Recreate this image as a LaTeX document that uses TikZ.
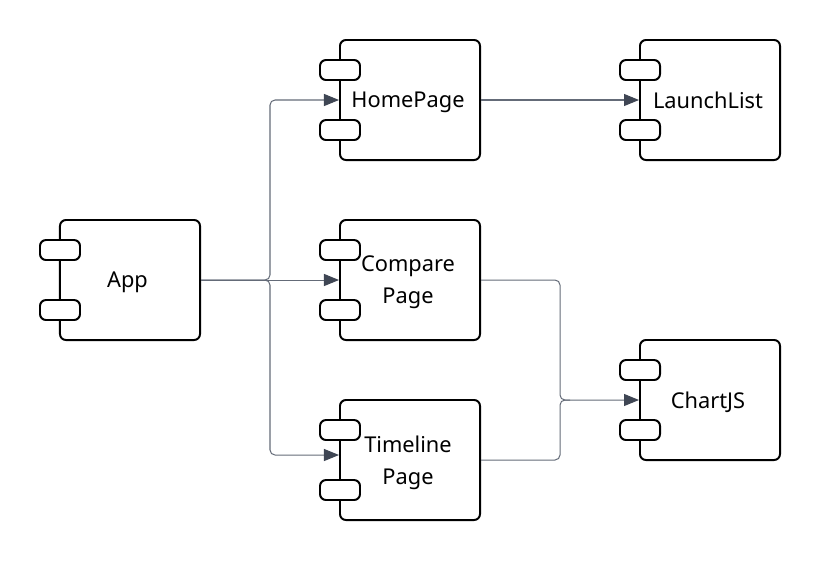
\documentclass[tikz,border=0pt]{standalone}
\usepackage{fontspec}
\setmainfont{Noto Sans}
\definecolor{boxline}{HTML}{000000}
\definecolor{edgeline}{HTML}{646B78}
\definecolor{edgetip}{HTML}{3F4654}
\usetikzlibrary{arrows.meta}
\tikzset{
  compbody/.style={draw=boxline, line width=1.4pt, fill=white, rounded corners=0.15cm, minimum width=3.5cm, minimum height=3cm},
  comptab/.style={draw=boxline, line width=1.4pt, fill=white, rounded corners=0.15cm, minimum width=1cm, minimum height=0.5cm},
  complabel/.style={align=center, inner sep=0pt, text depth=0pt, font=\fontsize{15.5}{22.7}\selectfont},
  link/.style={draw=edgeline, line width=0.72pt, rounded corners=0.125cm, -{Triangle[length=0.375cm, width=0.3cm, fill=edgetip, color=edgetip]}},
  linkplain/.style={draw=edgeline, line width=0.72pt, rounded corners=0.125cm}
}
\begin{document}
\begin{tikzpicture}[x=0.025cm, y=-0.025cm]
    \useasboundingbox (0,0) rectangle (820,560);

    %%%%%%%%%% Nodi %%%%%%%%%%
    \node[compbody] (App) at (130,280) {};
    \node[comptab] (AppTabA) at (60,250) {};
    \node[comptab] (AppTabB) at (60,310) {};
    \node[complabel] (AppText) at (127.5,280) {App};

    \node[compbody] (HomePage) at (410,100) {};
    \node[comptab] (HomePageTabA) at (340,70) {};
    \node[comptab] (HomePageTabB) at (340,130) {};
    \node[complabel] (HomePageText) at (408,100) {HomePage};

    \node[compbody] (ComparePage) at (410,280) {};
    \node[comptab] (ComparePageTabA) at (340,250) {};
    \node[comptab] (ComparePageTabB) at (340,310) {};
    \node[complabel] (ComparePageText) at (408,280) {Compare\\Page};

    \node[compbody] (TimelinePage) at (410,460) {};
    \node[comptab] (TimelinePageTabA) at (340,430) {};
    \node[comptab] (TimelinePageTabB) at (340,490) {};
    \node[complabel] (TimelinePageText) at (408,460) {Timeline\\Page};

    \node[compbody] (LaunchList) at (710,100) {};
    \node[comptab] (LaunchListTabA) at (640,70) {};
    \node[comptab] (LaunchListTabB) at (640,130) {};
    \node[complabel] (LaunchListText) at (708,100) {LaunchList};

    \node[compbody] (ChartJS) at (710,400) {};
    \node[comptab] (ChartJSTabA) at (640,370) {};
    \node[comptab] (ChartJSTabB) at (640,430) {};
    \node[complabel] (ChartJSText) at (708,400) {ChartJS};

    %%%%%%%%% Archi %%%%%%%%%%
    \draw[link] (App.east) -- (270,280) -- (270,100) -- (HomePage.west);
    \draw[link] (App.east) -- (ComparePage.west);
    \draw[link] (App.east) -- (270,280) -- (270,455) -- (TimelinePage.west |- 0,455);
    \draw[link] (HomePage.east) -- (LaunchList.west);
    \draw[link] (ComparePage.east) -- (560,280) -- (560,400) -- (ChartJS.west);
    \draw[linkplain] (TimelinePage.east) -- (560,460) -- (560,400) -- (570,400);
\end{tikzpicture}
\end{document}
